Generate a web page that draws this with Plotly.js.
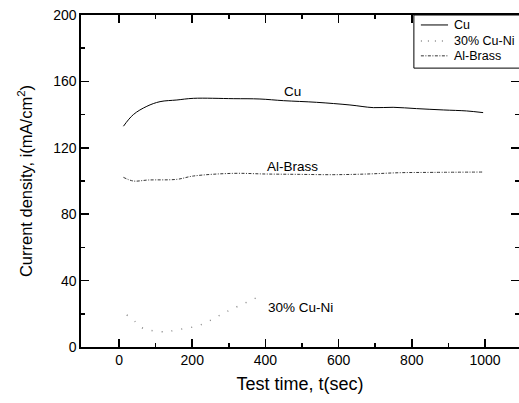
<!DOCTYPE html>
<html><head><meta charset="utf-8">
<script src="https://cdn.plot.ly/plotly-3.0.1.min.js"></script>
<style>html,body{margin:0;padding:0;background:#fff}#g{width:519px;height:403px}</style>
</head><body><div id="g"></div>
<script>
const cuT = [12, 39, 76, 112, 158, 203, 312, 385, 449, 540, 631, 695, 749, 813, 886, 950, 995];
const cuI = [133, 140, 145, 147.8, 148.8, 149.8, 149.6, 149.4, 148.4, 147.4, 145.8, 144.2, 144.4, 143.6, 142.8, 142.2, 141.2];
const brT = [12, 39, 80, 158, 203, 312, 403, 494, 585, 676, 768, 859, 995];
const brI = [102.2, 100, 100.6, 101, 103, 104.6, 104.2, 104, 103.8, 104.2, 105, 105.2, 105.4];
const niT = [21, 44, 66, 130, 153, 221, 294, 376];
const niI = [19.3, 15.3, 11.2, 9.2, 10.2, 13.2, 21.3, 29.7];
const seriesNames = ['Cu', '30% Cu-Ni', 'Al-Brass'];
const labels = [
  {t: 475, i: 154, text: 'Cu'},
  {t: 475, i: 109, text: 'Al-Brass'},
  {t: 495, i: 23.5, text: '30% Cu-Ni'}
];
const font = 'Liberation Sans, Arial, Helvetica, sans-serif';
const lineStyles = [
  {color: '#000', width: 1, shape: 'spline'},
  {color: '#8a8a8a', width: 1.5, dash: '1px,9px', shape: 'spline'},
  {color: '#333', width: 1, dash: '3px,1.5px,1px,1.5px', shape: 'spline'}
];
const traces = [
  {x: cuT, y: cuI, name: seriesNames[0], mode: 'lines', line: lineStyles[0]},
  {x: niT, y: niI, name: seriesNames[1], mode: 'lines', line: lineStyles[1]},
  {x: brT, y: brI, name: seriesNames[2], mode: 'lines', line: lineStyles[2]}
];
// custom compact legend (paper coords)
const legY = [0.970, 0.922, 0.877];
const shapes = [{type: 'rect', xref: 'paper', yref: 'paper', x0: 0.760, x1: 1.01, y0: 0.840, y1: 1.0,
  line: {color: '#000', width: 1}, fillcolor: '#fff', layer: 'above'}];
const legAnn = [];
traces.forEach((tr, k) => {
  const ls = {color: tr.line.color, width: tr.line.width};
  if (tr.line.dash) ls.dash = k === 1 ? '1px,6px' : tr.line.dash;
  shapes.push({type: 'line', xref: 'paper', yref: 'paper', x0: 0.776, x1: 0.838, y0: legY[k], y1: legY[k], line: ls, layer: 'above'});
  legAnn.push({xref: 'paper', yref: 'paper', x: 0.847, y: legY[k], xanchor: 'left', yanchor: 'middle', text: tr.name,
    showarrow: false, font: {family: font, size: 12.5, color: '#000'}});
});
const axBase = {showline: true, linecolor: '#000', linewidth: 1.6, mirror: 'allticks', ticks: 'inside',
  ticklen: 8, tickwidth: 1.5, tickcolor: '#000', showgrid: false, zeroline: false,
  tickfont: {family: font, size: 14, color: '#000'}};
const layout = {
  width: 519, height: 403,
  margin: {l: 81, r: 0, t: 15, b: 56},
  paper_bgcolor: '#fff', plot_bgcolor: '#fff',
  font: {family: font, color: '#000'},
  showlegend: false,
  xaxis: Object.assign({}, axBase, {range: [-104, 1093], tickvals: [0, 200, 400, 600, 800, 1000],
    minor: {tickvals: [100, 300, 500, 700, 900], ticks: 'inside', ticklen: 4, tickwidth: 1.5, tickcolor: '#000'},
    title: {text: 'Test time, t(sec)', font: {family: font, size: 18, color: '#000'}, standoff: 10}}),
  yaxis: Object.assign({}, axBase, {range: [0, 200], tickvals: [0, 40, 80, 120, 160, 200],
    minor: {tickvals: [20, 60, 100, 140, 180], ticks: 'inside', ticklen: 4, tickwidth: 1.5, tickcolor: '#000'},
    title: {text: 'Current density, i(mA/cm<sup>2</sup>)', font: {family: font, size: 16.5, color: '#000'}, standoff: 16}}),
  shapes: shapes,
  annotations: labels.map(l => ({x: l.t, y: l.i, text: l.text, showarrow: false, xref: 'x', yref: 'y',
    font: {family: font, size: 13.5, color: '#000'}})).concat(legAnn)
};
Plotly.newPlot('g', traces, layout, {displayModeBar: false, staticPlot: true});
</script></body></html>
